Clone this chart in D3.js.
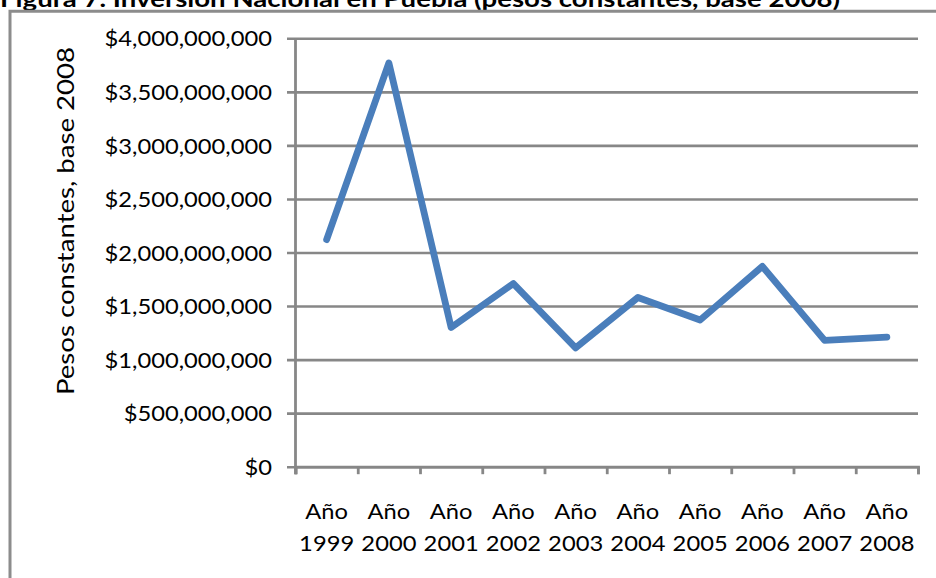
<!DOCTYPE html>
<html>
<head>
<meta charset="utf-8">
<script src="https://cdn.jsdelivr.net/npm/d3@7"></script>
<style>
  html, body { margin: 0; padding: 0; background: #fff; }
  svg { display: block; }
  text { font-family: Lato, "Open Sans", sans-serif; fill: #000; }
</style>
</head>
<body>
<svg id="chart" width="936" height="578"></svg>
<script>
// Inversión nacional en Puebla, pesos constantes (base 2008)
const years = ["1999", "2000", "2001", "2002", "2003", "2004", "2005", "2006", "2007", "2008"];
const categoryPrefix = "Año";
const inversion = [2.12e9, 3.77e9, 1.30e9, 1.71e9, 1.11e9, 1.58e9, 1.37e9, 1.87e9, 1.18e9, 1.21e9];
const yTicks = [0, 5e8, 1e9, 1.5e9, 2e9, 2.5e9, 3e9, 3.5e9, 4e9];
const titleText = "Figura 7. Inversión Nacional en Puebla (pesos constantes, base 2008)";
const yAxisTitle = "Pesos constantes, base 2008";

const svg = d3.select("#chart");
const plot = { left: 295.5, right: 918, top: 38.3, bottom: 466.7 };
const gridColor = "#878787";
const lineColor = "#4a7ebb";
const fontSize = 21;
const stretch = 1.13;   // horizontal stretch of the label type

// Figure title (sits above the chart frame, clipped by the page top)
svg.append("text")
  .attr("x", 0)
  .attr("y", 6.5)
  .attr("textLength", 840)
  .attr("lengthAdjust", "spacingAndGlyphs")
  .style("font-weight", "bold")
  .style("font-size", "22px")
  .text(titleText);

// Chart frame: only the left and top edges fall inside the page
svg.append("path")
  .attr("d", "M10,578 L10,11.3 L936,11.3")
  .attr("fill", "none")
  .attr("stroke", "#8c8c8c")
  .attr("stroke-width", 3);

const x = d3.scaleBand().domain(years).range([plot.left, plot.right]).padding(0);
const xEdges = d3.scaleLinear().domain([0, years.length]).range([plot.left, plot.right]);
const y = d3.scaleLinear().domain([0, 4e9]).range([plot.bottom, plot.top]);

const fmt = v => "$" + d3.format(",")(v);

// Y axis with gridlines
const yAxis = svg.append("g")
  .attr("transform", `translate(${plot.left},0)`)
  .call(d3.axisLeft(y).tickValues(yTicks).tickSize(8).tickFormat(fmt));
yAxis.select(".domain").remove();
yAxis.selectAll(".tick line")
  .attr("x1", -8.5)
  .attr("x2", plot.right - plot.left)
  .attr("stroke", gridColor)
  .attr("stroke-width", 2.6);
yAxis.selectAll(".tick text")
  .attr("x", 0)
  .attr("dy", null)
  .attr("y", 0)
  .attr("transform", `translate(-23.5,7.6) scale(${stretch},1)`)
  .style("font-size", fontSize + "px")
  .attr("text-anchor", "end");

// Vertical axis line (runs past the baseline to form the first category tick)
svg.append("line")
  .attr("x1", plot.left).attr("x2", plot.left)
  .attr("y1", plot.top).attr("y2", plot.bottom + 7.5)
  .attr("stroke", gridColor)
  .attr("stroke-width", 2.8);

// X axis: baseline and category boundary ticks
const xAxis = svg.append("g")
  .attr("transform", `translate(0,${plot.bottom})`)
  .call(d3.axisBottom(xEdges).ticks(years.length).tickSize(7.5).tickFormat(""));
xAxis.select(".domain")
  .attr("stroke", gridColor)
  .attr("stroke-width", 2.8);
xAxis.selectAll(".tick line")
  .attr("stroke", gridColor)
  .attr("stroke-width", 2.8);

// Category labels in two lines
const xLabels = svg.append("g")
  .attr("transform", `translate(0,${plot.bottom})`)
  .call(d3.axisBottom(x).tickSize(0).tickFormat(""));
xLabels.select(".domain").remove();
xLabels.selectAll(".tick").each(function(d) {
  const t = d3.select(this).append("text")
    .attr("text-anchor", "middle")
    .attr("transform", `scale(${stretch},1)`)
    .style("font-size", fontSize + "px");
  t.append("tspan").attr("x", 0).attr("y", 52.5).text(categoryPrefix);
  t.append("tspan").attr("x", 0).attr("y", 84.5).text(d);
});

// Y axis title
svg.append("text")
  .attr("transform", `translate(74,221) rotate(-90) scale(1.2,1)`)
  .attr("text-anchor", "middle")
  .style("font-size", "23px")
  .text(yAxisTitle);

// Series line
const line = d3.line()
  .x((d, i) => x(years[i]) + x.bandwidth() / 2)
  .y(d => y(d));

svg.append("path")
  .datum(inversion)
  .attr("d", line)
  .attr("fill", "none")
  .attr("stroke", lineColor)
  .attr("stroke-width", 6.8)
  .attr("stroke-linejoin", "round")
  .attr("stroke-linecap", "round");
</script>
</body>
</html>
